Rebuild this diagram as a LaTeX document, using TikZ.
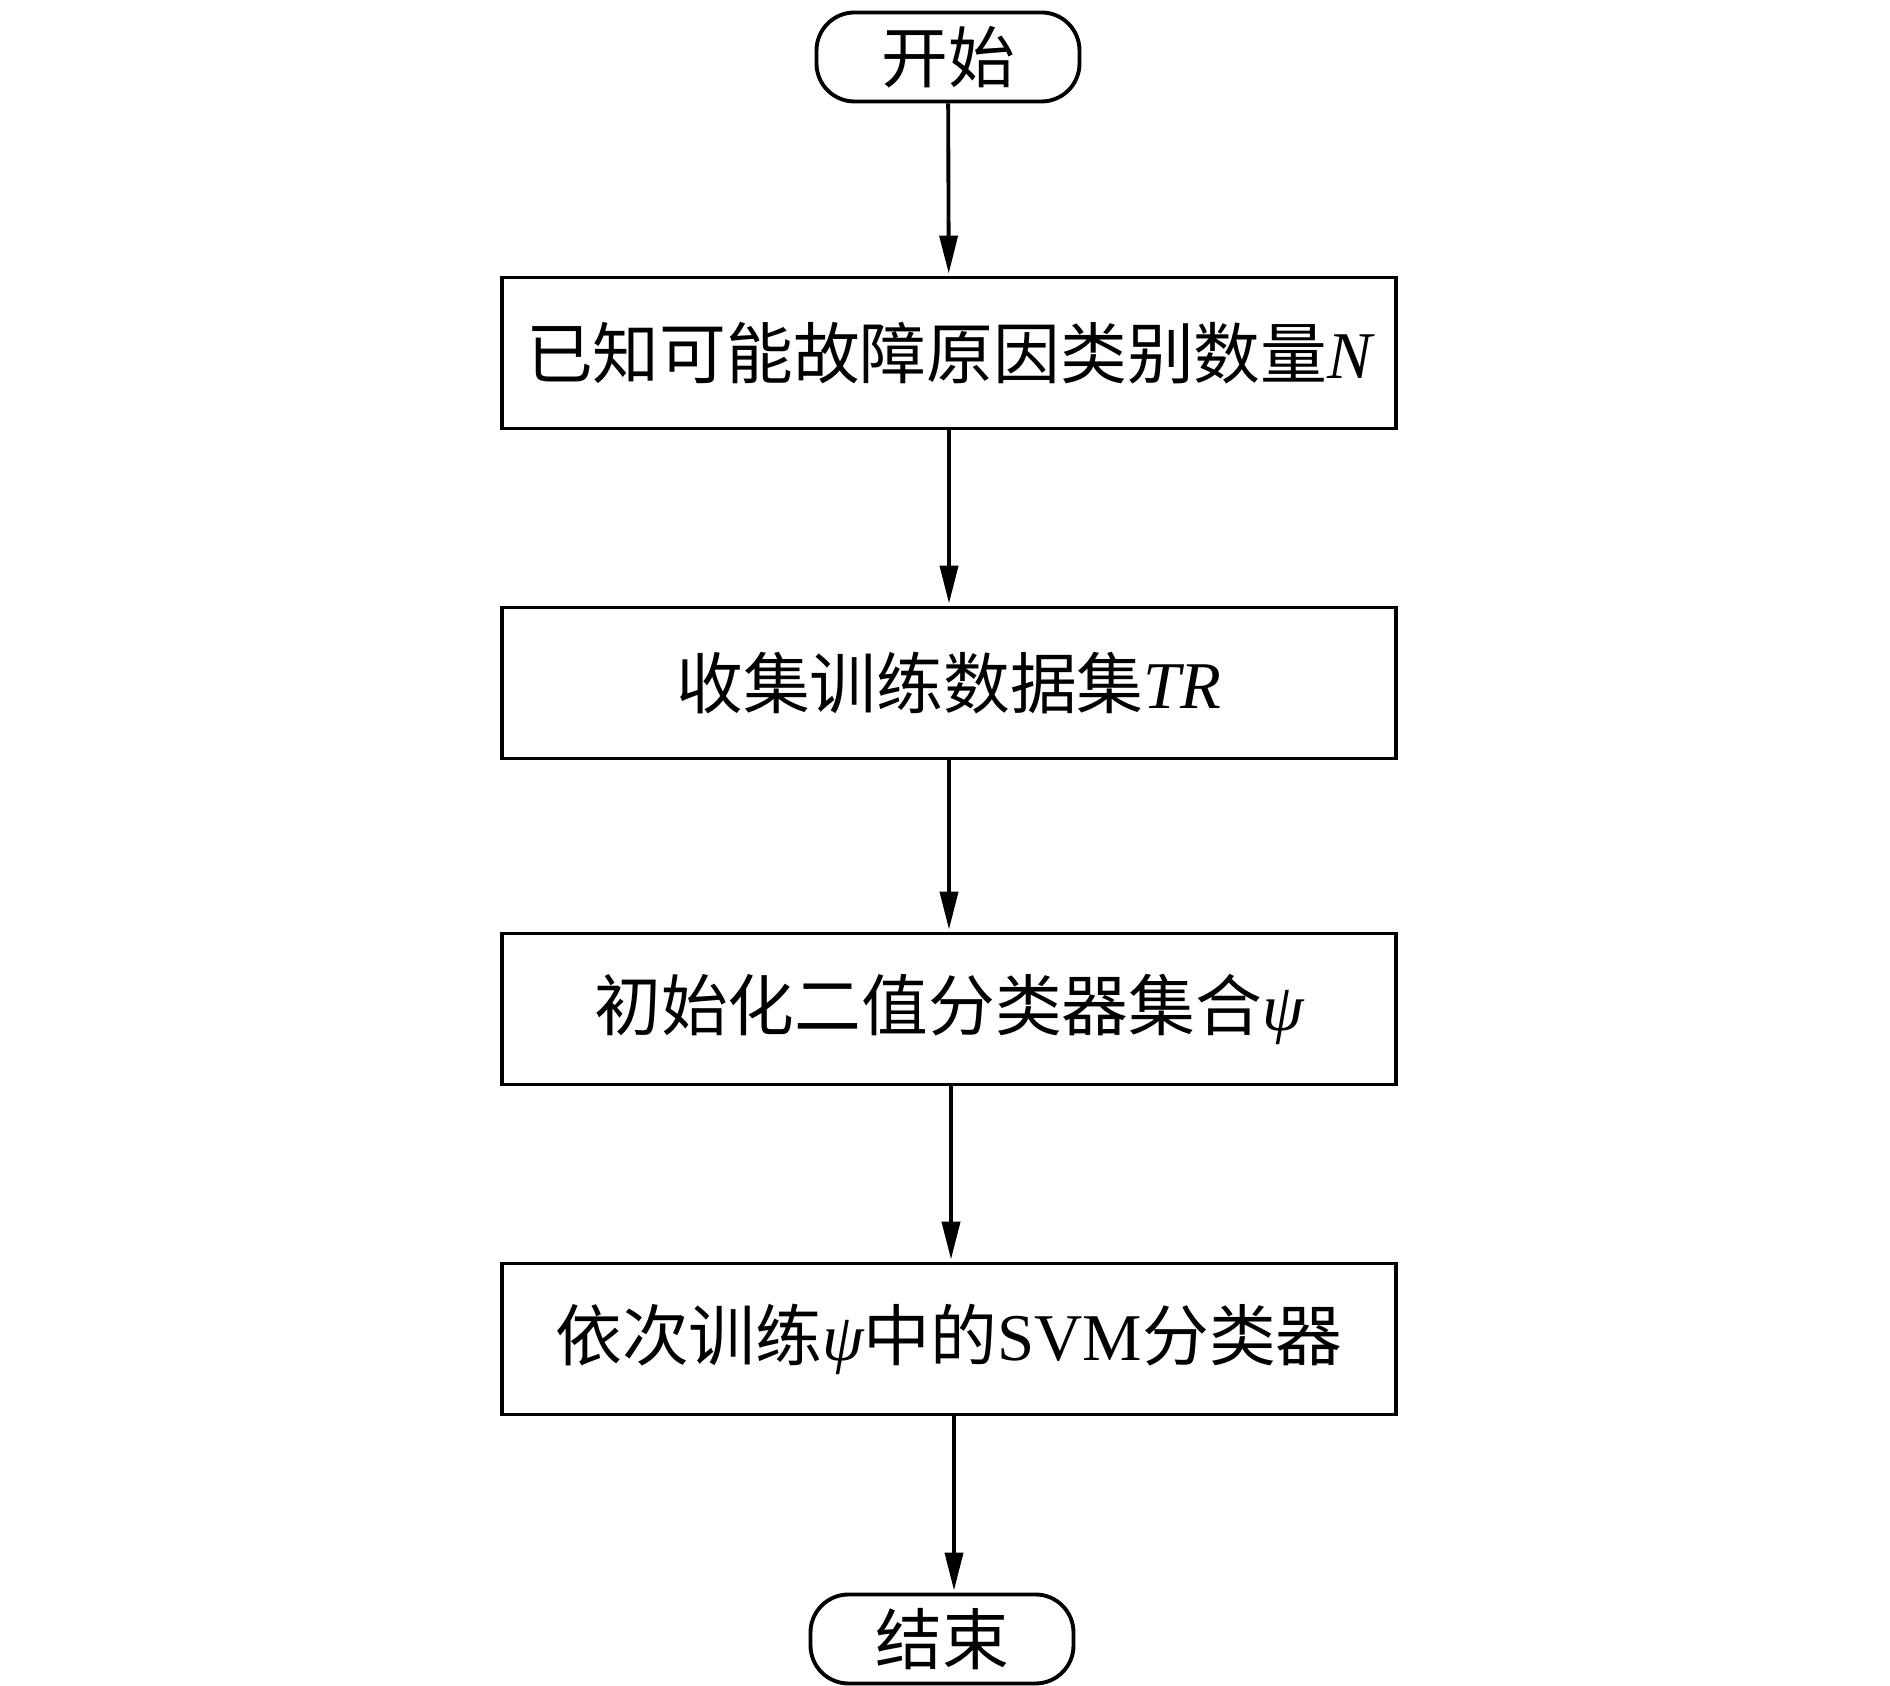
\documentclass[tikz,border=0pt]{standalone}
\usepackage{fontspec}
\setmainfont{Liberation Serif}
\newfontfamily\cjk{Noto Sans CJK SC}
\usetikzlibrary{arrows.meta}
\tikzset{every picture/.style={/utils/exec={\cjk\fontsize{19pt}{22pt}\selectfont}}}
\tikzset{terminal/.style={draw,line width=1.1pt,rounded corners=0.38cm,minimum width=2.63cm,minimum height=0.89cm,inner sep=0pt}}
\tikzset{process/.style={draw,line width=1.1pt,minimum width=8.94cm,minimum height=1.51cm,inner sep=0pt}}
\tikzset{flow/.style={-{Triangle[length=0.38cm,width=0.18cm]}, line width=1.1pt, shorten >=0.02cm}}

\begin{document}
\begin{tikzpicture}
    \useasboundingbox (0,0) rectangle (18.9,16.86);
    \node [terminal] (start) at (9.48,16.29) {开始};
    \node [process] (known) at (9.49,13.33) {已知可能故障原因类别数量{\rmfamily\itshape N}};
    \node [process] (collect) at (9.49,10.03) {收集训练数据集{\rmfamily\itshape TR}};
    \node [process] (init) at (9.49,6.77) {初始化二值分类器集合{\rmfamily\itshape ψ}};
    \node [process] (train) at (9.49,3.47) {依次训练{\rmfamily\itshape ψ}中的{\rmfamily SVM}分类器};
    \node [terminal] (stop) at (9.42,0.47) {结束};
    \draw [flow] (start) to (known);
    \draw [flow] (known) to (collect);
    \draw [flow] (collect) to (init);
    \draw [flow] ([xshift=0.02cm]init.south) to ([xshift=0.02cm]train.north);
    \draw [flow] ([xshift=0.05cm]train.south) to ([xshift=0.05cm]train.south |- stop.north);
\end{tikzpicture}
\end{document}
